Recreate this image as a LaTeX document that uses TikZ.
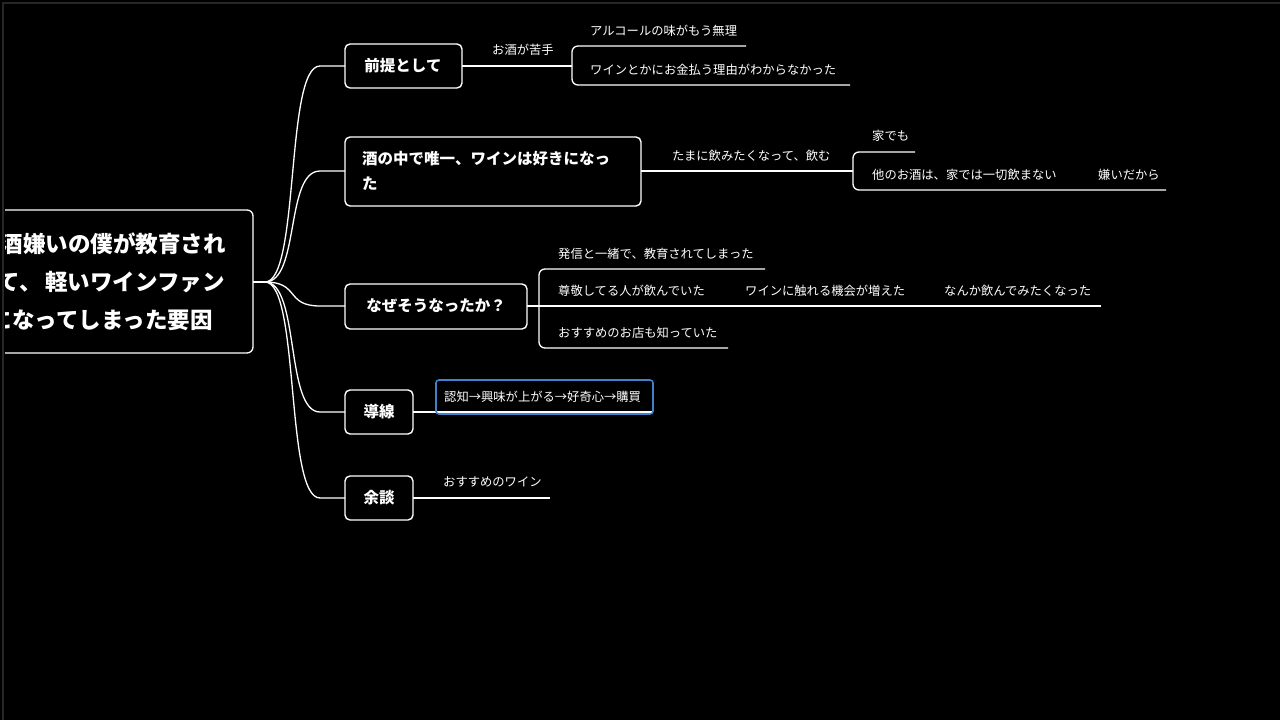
\documentclass[tikz,border=0pt]{standalone}
\usepackage{fontspec}
\newfontfamily\jp{Noto Sans CJK JP}
\begin{document}
\begin{tikzpicture}[x=1pt,y=-1pt,
  box/.style={draw=white,line width=1.4pt,rounded corners=5pt},
  bt/.style={text=white,font=\jp\bfseries\fontsize{15.5}{25}\selectfont,inner sep=0pt},
  rt/.style={text=white,font=\jp\bfseries\fontsize{22.5}{30}\selectfont,anchor=east,inner sep=0pt},
  lbl/.style={text=white,font=\jp\fontsize{12.3}{14}\selectfont,anchor=west,inner sep=0pt},
  ln/.style={draw=white,line width=1.3pt},
  rc/.style={ln,rounded corners=6pt}]
\fill[black] (0,0) rectangle (1280,720);
\useasboundingbox (0,0) rectangle (1280,720);
\draw[gray!30!black,line width=2pt] (3,720) -- (3,3) -- (1280,3);
\begin{scope}
\clip (5,5) rectangle (1280,720);
\draw[ln,rounded corners=6pt] (-40,210) rectangle (253,353);
\node[rt] (root1) at (226,244) {お酒嫌いの僕が教育され};
\node[rt] (root2) at (225,282) {て、\,軽いワインファン};
\node[rt] (root3) at (213,320) {になってしまった要因};
\end{scope}
\coordinate (r) at (253,282);
\coordinate (rs) at (265,282);
\draw[ln] (r) -- (rs);
% children
\draw[box] (345,44) rectangle (462,88); \node[bt] (c1) at (403,66) {前提として};
\draw[box] (345,137) rectangle (641,206); \node[bt,align=left,anchor=west] (c2) at (362,171) {酒の中で唯一、ワインは好きになっ\\た};
\draw[box] (345,284) rectangle (527,329); \node[bt] (c3) at (436,306) {なぜそうなったか？};
\draw[box] (345,390) rectangle (413,434); \node[bt] (c4) at (379,412) {導線};
\draw[box] (345,476) rectangle (413,520); \node[bt] (c5) at (379,498) {余談};
\foreach \y in {66,171,306,412,498}{
  \draw[ln] (rs) .. controls (300,282) and (285,\y) .. (320,\y) -- (345,\y);
}
% branch 1
\draw[ln] (462,66) -- (572,66);
\node[lbl] (a1) at (492,50) {お酒が苦手};
\draw[rc] (572,66) -- (572,46) -- (746,46);
\draw[rc] (572,66) -- (572,85) -- (850,85);
\node[lbl] (a2) at (590,31) {アルコールの味がもう無理};
\node[lbl] (a3) at (590,70) {ワインとかにお金払う理由がわからなかった};
% branch 2
\draw[ln] (641,171) -- (853,171);
\node[lbl] (b1) at (672,156) {たまに飲みたくなって、飲む};
\draw[rc] (853,171) -- (853,152) -- (915,152);
\draw[rc] (853,171) -- (853,190) -- (1166,190);
\node[lbl] (b2) at (872,136) {家でも};
\node[lbl] (b3) at (872,175) {他のお酒は、家では一切飲まない};
\node[lbl] (b4) at (1098,175) {嫌いだから};
% branch 3
\draw[ln] (527,306) -- (1101,306);
\draw[rc] (539,306) -- (539,269) -- (765,269);
\draw[rc] (539,306) -- (539,348) -- (728,348);
\node[lbl] (d1) at (558,254) {発信と一緒で、教育されてしまった};
\node[lbl] (d2) at (558,291) {尊敬してる人が飲んでいた};
\node[lbl] (d3) at (745,291) {ワインに触れる機会が増えた};
\node[lbl] (d4) at (944,291) {なんか飲んでみたくなった};
\node[lbl] (d5) at (558,333) {おすすめのお店も知っていた};
% branch 4
\draw[ln] (413,412) -- (653,412);
\draw[draw=cyan!50!blue!80!white,line width=1.6pt,rounded corners=3pt] (436,380) rectangle (653,414);
\node[lbl] (e1) at (444,397) {認知→興味が上がる→好奇心→購買};
% branch 5
\draw[ln] (413,498) -- (550,498);
\node[lbl] (f1) at (443,482) {おすすめのワイン};
\end{tikzpicture}
\end{document}
